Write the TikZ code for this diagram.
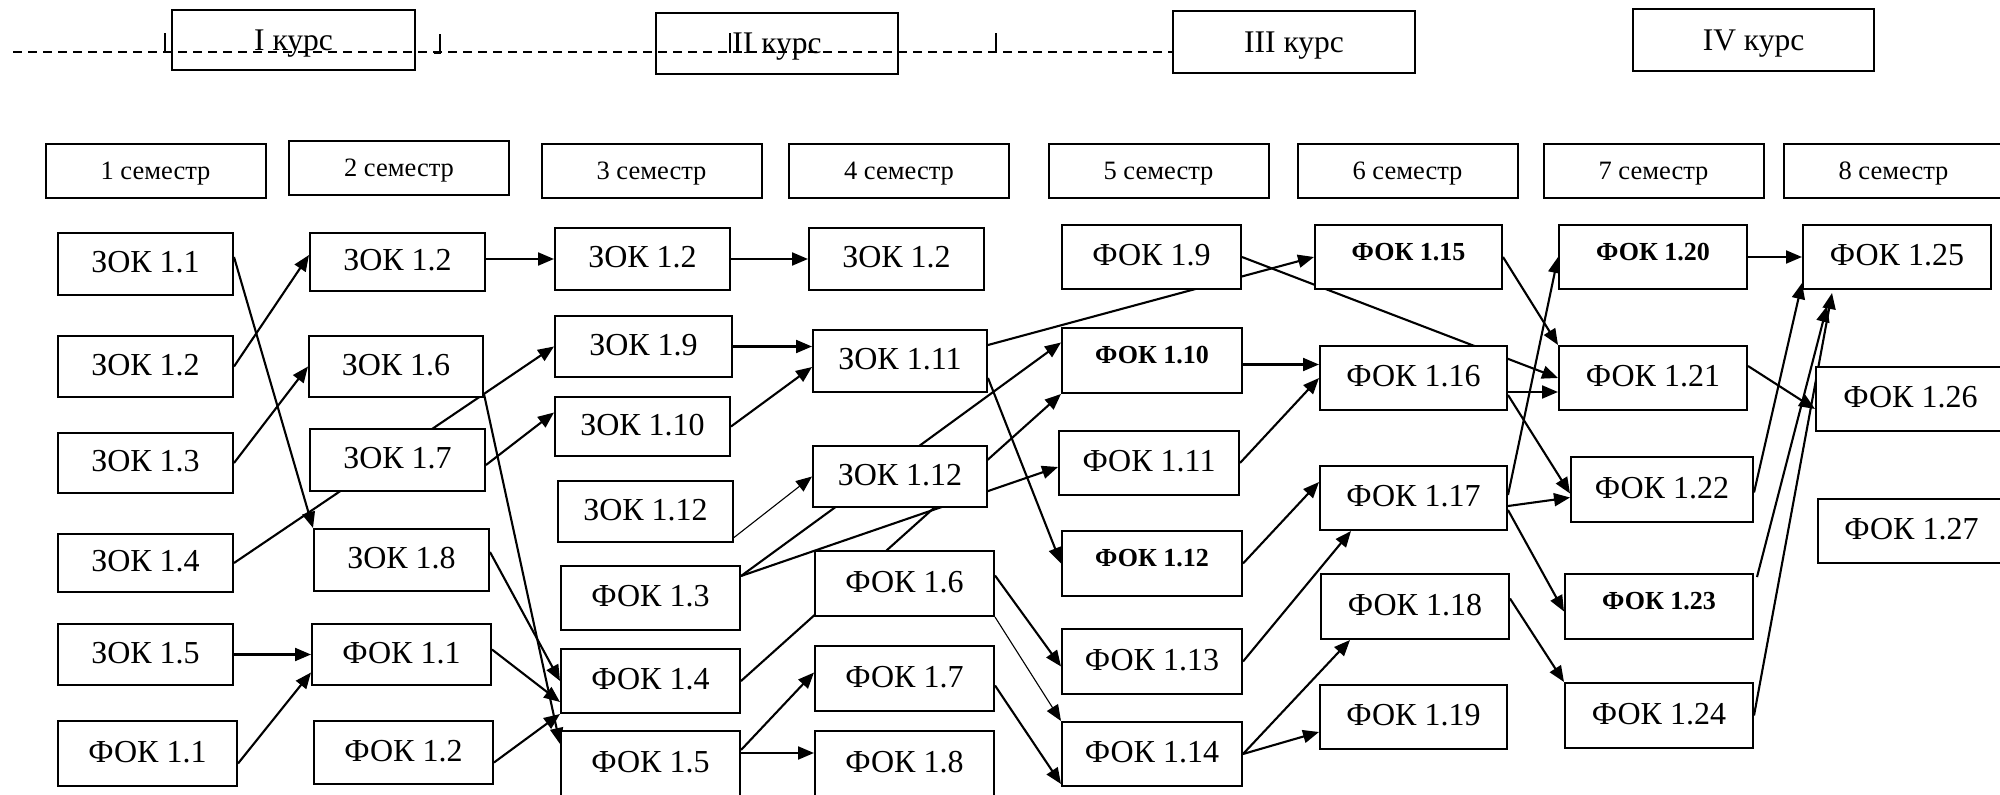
\documentclass[tikz,border=0pt]{standalone}
\usepackage{fontspec}
\setmainfont{Liberation Serif}
\usetikzlibrary{arrows.meta,calc,backgrounds}
\begin{document}
\begin{tikzpicture}[x=1pt,y=-1pt,
  box/.style={draw, line width=2pt, fill=white, inner sep=0pt,
    font=\fontsize{32}{35}\selectfont, text height=21pt, text depth=4pt},
  bbox/.style={box, font=\fontsize{26}{30}\selectfont\bfseries, text height=17.2pt, text depth=11pt},
  sem/.style={box, font=\fontsize{26.5}{30}\selectfont, text height=17.9pt, text depth=0pt,
    minimum width=220pt, minimum height=54pt},
  course/.style={box, fill=none, font=\fontsize{31.5}{34}\selectfont, text height=20.8pt, text depth=0pt},
  link/.style={line width=2.1pt, -{Triangle[length=16pt,width=13pt]}},
  thinlink/.style={link, line width=1.1pt},
  dashline/.style={line width=2.6pt, dash pattern=on 9pt off 6pt},
  tickline/.style={line width=1.6pt}
]
\path[use as bounding box] (0,0) rectangle (2000,795);
\clip (0,0) rectangle (2000,795);

% courses
\node[course, minimum width=243pt, minimum height=60pt] (kI) at (293.5,40) {I курс};
\node[course, minimum width=242pt, minimum height=61pt] (kII) at (777,43.5) {II курс};
\node[course, minimum width=242pt, minimum height=62pt] (kIII) at (1294,42) {III курс};
\node[course, minimum width=241pt, minimum height=62pt] (kIV) at (1753.5,40) {IV курс};
\coordinate (dstart) at (13,52);
\draw[dashline] (dstart) -- (dstart -| kIII.west);
\draw[tickline] (165,33) -- (165,53);
\draw[tickline] (440,34) -- (440,53) -- (434,53);
\draw[tickline] (730,33) -- (730,53);
\draw[tickline] (996,33) -- (996,53);

% semesters
\node[sem] (s1) at (155.5,171) {1 семестр};
\node[sem] (s2) at (399,168) {2 семестр};
\node[sem] (s3) at (651.5,170.5) {3 семестр};
\node[sem] (s4) at (899,170.5) {4 семестр};
\node[sem] (s5) at (1158.5,170.5) {5 семестр};
\node[sem] (s6) at (1407.5,170.5) {6 семестр};
\node[sem] (s7) at (1653.5,170.5) {7 семестр};
\node[sem] (s8) at (1893.5,170.5) {8 семестр};

% column 1
\node[box, minimum width=175pt, minimum height=62pt] (z11) at (145.5,264) {ЗОК 1.1};
\node[box, minimum width=175pt, minimum height=61pt] (z12a) at (145.5,366.5) {ЗОК 1.2};
\node[box, minimum width=175pt, minimum height=60pt] (z13) at (145.5,463) {ЗОК 1.3};
\node[box, minimum width=175pt, minimum height=58pt] (z14) at (145.5,563) {ЗОК 1.4};
\node[box, minimum width=175pt, minimum height=61pt] (z15) at (145.5,654.5) {ЗОК 1.5};
\node[box, minimum width=179pt, minimum height=65pt] (f11a) at (147.5,753.5) {ФОК 1.1};
% column 2
\node[box, minimum width=175pt, minimum height=58pt] (z12b) at (397.5,262) {ЗОК 1.2};
\node[box, minimum width=174pt, minimum height=61pt] (z16) at (396,366.5) {ЗОК 1.6};
\node[box, minimum width=175pt, minimum height=62pt] (z17) at (397.5,460) {ЗОК 1.7};
\node[box, minimum width=175pt, minimum height=62pt] (z18) at (401.5,560) {ЗОК 1.8};
\node[box, minimum width=179pt, minimum height=61pt] (f11b) at (401.5,654.5) {ФОК 1.1};
\node[box, minimum width=179pt, minimum height=63pt] (f12) at (403.5,752.5) {ФОК 1.2};
% column 3
\node[box, minimum width=175pt, minimum height=62pt] (z12c) at (642.5,259) {ЗОК 1.2};
\node[box, minimum width=177pt, minimum height=61pt] (z19) at (643.5,346.5) {ЗОК 1.9};
\node[box, minimum width=175pt, minimum height=59pt] (z110) at (642.5,426.5) {ЗОК 1.10};
\node[box, minimum width=175pt, minimum height=61pt] (z112a) at (645.5,511.5) {ЗОК 1.12};
\node[box, minimum width=179pt, minimum height=64pt] (f13) at (650.5,598) {ФОК 1.3};
\node[box, minimum width=179pt, minimum height=64pt] (f14) at (650.5,681) {ФОК 1.4};
\node[box, minimum width=179pt, minimum height=66pt] (f15) at (650.5,764) {ФОК 1.5};
% column 4
\node[box, minimum width=175pt, minimum height=62pt] (z12d) at (896.5,259) {ЗОК 1.2};
\node[box, minimum width=174pt, minimum height=62pt] (z111) at (900,361) {ЗОК 1.11};
\node[box, minimum width=174pt, minimum height=61pt] (z112b) at (900,476.5) {ЗОК 1.12};
\node[box, minimum width=179pt, minimum height=65pt] (f16) at (904.5,583.5) {ФОК 1.6};
\node[box, minimum width=179pt, minimum height=65pt] (f17) at (904.5,678.5) {ФОК 1.7};
\node[box, minimum width=179pt, minimum height=66pt] (f18) at (904.5,764) {ФОК 1.8};
% column 5
\node[box, minimum width=179pt, minimum height=64pt] (f19) at (1151.5,257) {ФОК 1.9};
\node[bbox, minimum width=180pt, minimum height=65pt] (f110) at (1152,360.5) {ФОК 1.10};
\node[box, minimum width=180pt, minimum height=64pt] (f111) at (1149,463) {ФОК 1.11};
\node[bbox, minimum width=180pt, minimum height=65pt] (f112) at (1152,563.5) {ФОК 1.12};
\node[box, minimum width=180pt, minimum height=65pt] (f113) at (1152,661.5) {ФОК 1.13};
\node[box, minimum width=180pt, minimum height=64pt] (f114) at (1152,754) {ФОК 1.14};
% column 6
\node[bbox, minimum width=187pt, minimum height=64pt] (f115) at (1408.5,257) {ФОК 1.15};
\node[box, minimum width=187pt, minimum height=64pt] (f116) at (1413.5,378) {ФОК 1.16};
\node[box, minimum width=187pt, minimum height=64pt] (f117) at (1413.5,498) {ФОК 1.17};
\node[box, minimum width=188pt, minimum height=65pt] (f118) at (1415,606.5) {ФОК 1.18};
\node[box, minimum width=187pt, minimum height=64pt] (f119) at (1413.5,717) {ФОК 1.19};
% column 7
\node[bbox, minimum width=188pt, minimum height=64pt] (f120) at (1653,257) {ФОК 1.20};
\node[box, minimum width=188pt, minimum height=64pt] (f121) at (1653,378) {ФОК 1.21};
\node[box, minimum width=182pt, minimum height=65pt] (f122) at (1662,489.5) {ФОК 1.22};
\node[bbox, minimum width=188pt, minimum height=65pt] (f123) at (1659,606.5) {ФОК 1.23};
\node[box, minimum width=188pt, minimum height=65pt] (f124) at (1659,715.5) {ФОК 1.24};
% column 8
\node[box, minimum width=188pt, minimum height=64pt] (f125) at (1897,257) {ФОК 1.25};
\node[box, minimum width=189pt, minimum height=64pt] (f126) at (1910.5,399) {ФОК 1.26};
\node[box, minimum width=187pt, minimum height=64pt] (f127) at (1911.5,531) {ФОК 1.27};

\begin{pgfonlayer}{background}
\draw[link] ($(z11.east)+(0,-7)$) -- (z18.north west);
\draw[link] (z12a.east) -- ($(z12b.west)+(0,-7)$);
\draw[link] (z13.east) -- (z16.west);
\draw[link] (z14.east) -- (z19.west);
\draw[link] ($(z17.east)+(0,5)$) -- ($(z110.west)+(0,-14)$);
\draw[link] ($(z16.south east)+(0,-4)$) -- ($(f15.north west)+(0,14)$);
\draw[link] ($(z18.east)+(0,-8)$) -- (f14.west);
\draw[link] (z15.east) -- (f11b.west);
\draw[link] ($(f11a.east)+(0,10)$) -- ($(f11b.west)+(0,18)$);
\draw[link] ($(f11b.east)+(0,-5)$) -- ($(f14.west)+(0,21)$);
\draw[link] ($(f12.east)+(0,10)$) -- (f14.south west);
\draw[link] (z12b.east |- z12c.west) -- (z12c.west);
\draw[link] (z12c.east) -- (z12d.west);
\draw[link] (z19.east) -- (z19.east -| z111.west);
\draw[link] (z110.east) -- ($(z111.west)+(0,6)$);
\draw[thinlink] ($(z112a.east)+(0,26)$) -- (z112b.west);
\draw[link] ($(f13.north east)+(0,11)$) -- ($(f110.west)+(0,-18)$);
\draw[link] ($(f13.north east)+(0,11)$) -- ($(f111.west)+(0,4)$);
\draw[link] (f14.east) -- (f110.south west);
\draw[link] ($(z111.east)+(0,-16)$) -- (f115.west);
\draw[link] ($(z111.east)+(0,17)$) -- (f112.west);
\draw[link] (f19.east) -- (f121.west);
\coordinate (a23) at ($(f110.east)+(0,4)$);
\draw[link] (a23) -- (a23 -| f116.west);
\draw[link] (f111.east) -- (f116.west);
\draw[link] (f112.east) -- ($(f117.west)+(0,-16)$);
\draw[link] ($(f16.east)+(0,-8)$) -- ($(f113.west)+(0,5)$);
\draw[thinlink] (f16.south east) -- (f114.north west);
\draw[link] ($(f17.east)+(0,7)$) -- ($(f114.south west)+(0,-3)$);
\draw[link] ($(f15.east)+(0,-14)$) -- ($(f17.west)+(0,-6)$);
\coordinate (a30) at ($(f15.east)+(0,-11)$);
\draw[link] (a30) -- (a30 -| f18.west);
\draw[link] (f113.east) -- ($(f117.south west)+(32,0)$);
\draw[link] (f114.east) -- ($(f118.south west)+(30,0)$);
\draw[link] (f114.east) -- ($(f119.west)+(0,15)$);
\draw[link] (f115.east) -- (f121.north west);
\coordinate (a35) at ($(f116.east)+(0,14)$);
\draw[link] (a35) -- (a35 -| f121.west);
\draw[link] ($(f116.east)+(0,17)$) -- ($(f122.west)+(0,4)$);
\draw[link] ($(f117.east)+(0,8)$) -- ($(f122.west)+(0,8)$);
\draw[link] ($(f117.east)+(0,-3)$) -- (f120.west);
\draw[link] ($(f117.east)+(0,12)$) -- ($(f123.west)+(0,5)$);
\draw[link] ($(f118.east)+(0,-8)$) -- (f124.north west);
\draw[link] (f120.east) -- (f125.west);
\draw[link] ($(f121.east)+(0,-12)$) -- ($(f126.west)+(0,10)$);
\draw[link] ($(f122.east)+(0,3)$) -- ($(f125.south west)+(0,-7)$);
\draw[link] ($(f123.north east)+(3,4)$) -- ($(f125.south west)+(25,16)$);
\draw[link] (f124.east) -- ($(f125.south west)+(30,3)$);
\end{pgfonlayer}
\end{tikzpicture}
\end{document}
